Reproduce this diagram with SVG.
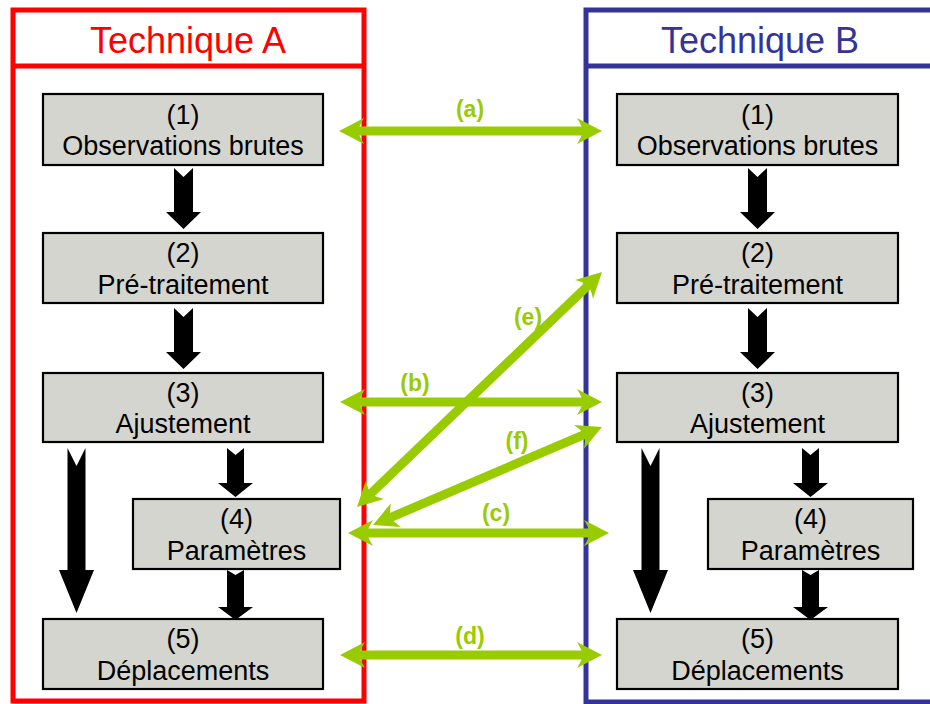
<svg xmlns="http://www.w3.org/2000/svg" width="930" height="704" viewBox="0 0 930 704">
<defs>
<style>
.box{fill:#d5d5cf;stroke:#000;stroke-width:2.2}
.t{font-family:"Liberation Sans",Arial,sans-serif;font-size:27px;fill:#000;text-anchor:middle}
.title{font-family:"Liberation Sans",Arial,sans-serif;font-size:36px;text-anchor:middle}
.frA{fill:none;stroke:#ff0000;stroke-width:5}
.frB{fill:none;stroke:#333399;stroke-width:5}
.blk{fill:#000}
.g{fill:none;stroke:#99cc00;stroke-width:9;marker-start:url(#gh);marker-end:url(#gh)}
.lbl{font-family:"Liberation Sans",Arial,sans-serif;font-size:23px;font-weight:bold;fill:#99cc00;text-anchor:middle}
</style>
<marker id="gh" markerUnits="userSpaceOnUse" viewBox="-12 -14 28 28" refX="0" refY="0" markerWidth="28" markerHeight="28" orient="auto-start-reverse">
<path d="M15,0 L-10,-13 Q-5,-5 -4,0 Q-5,5 -10,13 Z" fill="#99cc00"/>
</marker>
</defs>
<rect width="930" height="704" fill="#fff"/>
<g id="frameA">
<rect class="frA" x="13" y="10" width="351" height="691"/>
<line class="frA" x1="13" y1="66" x2="364" y2="66"/>
<text class="title" x="188" y="53" fill="#ff0000">Technique A</text>
</g>
<g id="frameB">
<path class="frB" d="M940,10 H586 V702 H940"/>
<line class="frB" x1="586" y1="66" x2="940" y2="66"/>
<text class="title" x="760" y="53" fill="#333399">Technique B</text>
</g>
<g id="connectors">
<path class="blk" d="M174,168 L183.5,177 L193,168 L193,212 L201,212 L183.5,229 L166,212 L174,212 Z"/>
<path class="blk" d="M174,308 L183.5,317 L193,308 L193,352 L201,352 L183.5,369 L166,352 L174,352 Z"/>
<path class="blk" d="M67.5,448 L76.5,466 L85.5,448 L85.5,570 L94,570 L76.5,613 L59,570 L67.5,570 Z"/>
<path class="blk" d="M227,448 L235.5,455 L244,448 L244,483 L253,483 L235.5,497 L218,483 L227,483 Z"/>
<path class="blk" d="M227,570 L235.5,575 L244,570 L244,607 L253,607 L235.5,620 L218,607 L227,607 Z"/>
<path class="blk" d="M748,168 L757.5,177 L767,168 L767,212 L775,212 L757.5,229 L740,212 L748,212 Z"/>
<path class="blk" d="M748,308 L757.5,317 L767,308 L767,352 L775,352 L757.5,369 L740,352 L748,352 Z"/>
<path class="blk" d="M641.5,448 L650.5,466 L659.5,448 L659.5,570 L668,570 L650.5,613 L633,570 L641.5,570 Z"/>
<path class="blk" d="M802,448 L810.5,455 L819,448 L819,483 L828,483 L810.5,497 L793,483 L802,483 Z"/>
<path class="blk" d="M802,570 L810.5,575 L819,570 L819,607 L828,607 L810.5,620 L793,607 L802,607 Z"/>
<line class="g" x1="354" y1="131" x2="587" y2="131"/>
<line class="g" x1="355" y1="402" x2="587" y2="402"/>
<line class="g" x1="363" y1="533" x2="594" y2="533"/>
<line class="g" x1="355" y1="655" x2="587" y2="655"/>
<line class="g" x1="367.8" y1="496.6" x2="591.2" y2="282.4"/>
<line class="g" x1="386.8" y1="519.1" x2="588.2" y2="432.9"/>
<text class="lbl" x="470" y="117">(a)</text>
<text class="lbl" x="415" y="391">(b)</text>
<text class="lbl" x="496" y="521">(c)</text>
<text class="lbl" x="470" y="644">(d)</text>
<text class="lbl" x="528" y="325">(e)</text>
<text class="lbl" x="517" y="449">(f)</text>
</g>
<g id="A1"><rect class="box" x="43" y="94" width="280" height="71"/><text class="t" x="183" y="124">(1)</text><text class="t" x="183" y="155">Observations brutes</text></g>
<g id="A2"><rect class="box" x="43" y="233" width="280" height="70"/><text class="t" x="183" y="262">(2)</text><text class="t" x="183" y="294">Pré-traitement</text></g>
<g id="A3"><rect class="box" x="43" y="373" width="280" height="69"/><text class="t" x="183" y="402">(3)</text><text class="t" x="183" y="433">Ajustement</text></g>
<g id="A4"><rect class="box" x="133" y="499" width="207" height="70"/><text class="t" x="236.5" y="528">(4)</text><text class="t" x="236.5" y="560">Paramètres</text></g>
<g id="A5"><rect class="box" x="43" y="619" width="280" height="70"/><text class="t" x="183" y="648">(5)</text><text class="t" x="183" y="680">Déplacements</text></g>
<g id="B1"><rect class="box" x="617" y="94" width="281" height="71"/><text class="t" x="757.5" y="124">(1)</text><text class="t" x="757.5" y="155">Observations brutes</text></g>
<g id="B2"><rect class="box" x="617" y="233" width="281" height="70"/><text class="t" x="757.5" y="262">(2)</text><text class="t" x="757.5" y="294">Pré-traitement</text></g>
<g id="B3"><rect class="box" x="617" y="373" width="281" height="69"/><text class="t" x="757.5" y="402">(3)</text><text class="t" x="757.5" y="433">Ajustement</text></g>
<g id="B4"><rect class="box" x="708" y="499" width="205" height="70"/><text class="t" x="810.5" y="528">(4)</text><text class="t" x="810.5" y="560">Paramètres</text></g>
<g id="B5"><rect class="box" x="617" y="619" width="281" height="70"/><text class="t" x="757.5" y="648">(5)</text><text class="t" x="757.5" y="680">Déplacements</text></g>
</svg>
